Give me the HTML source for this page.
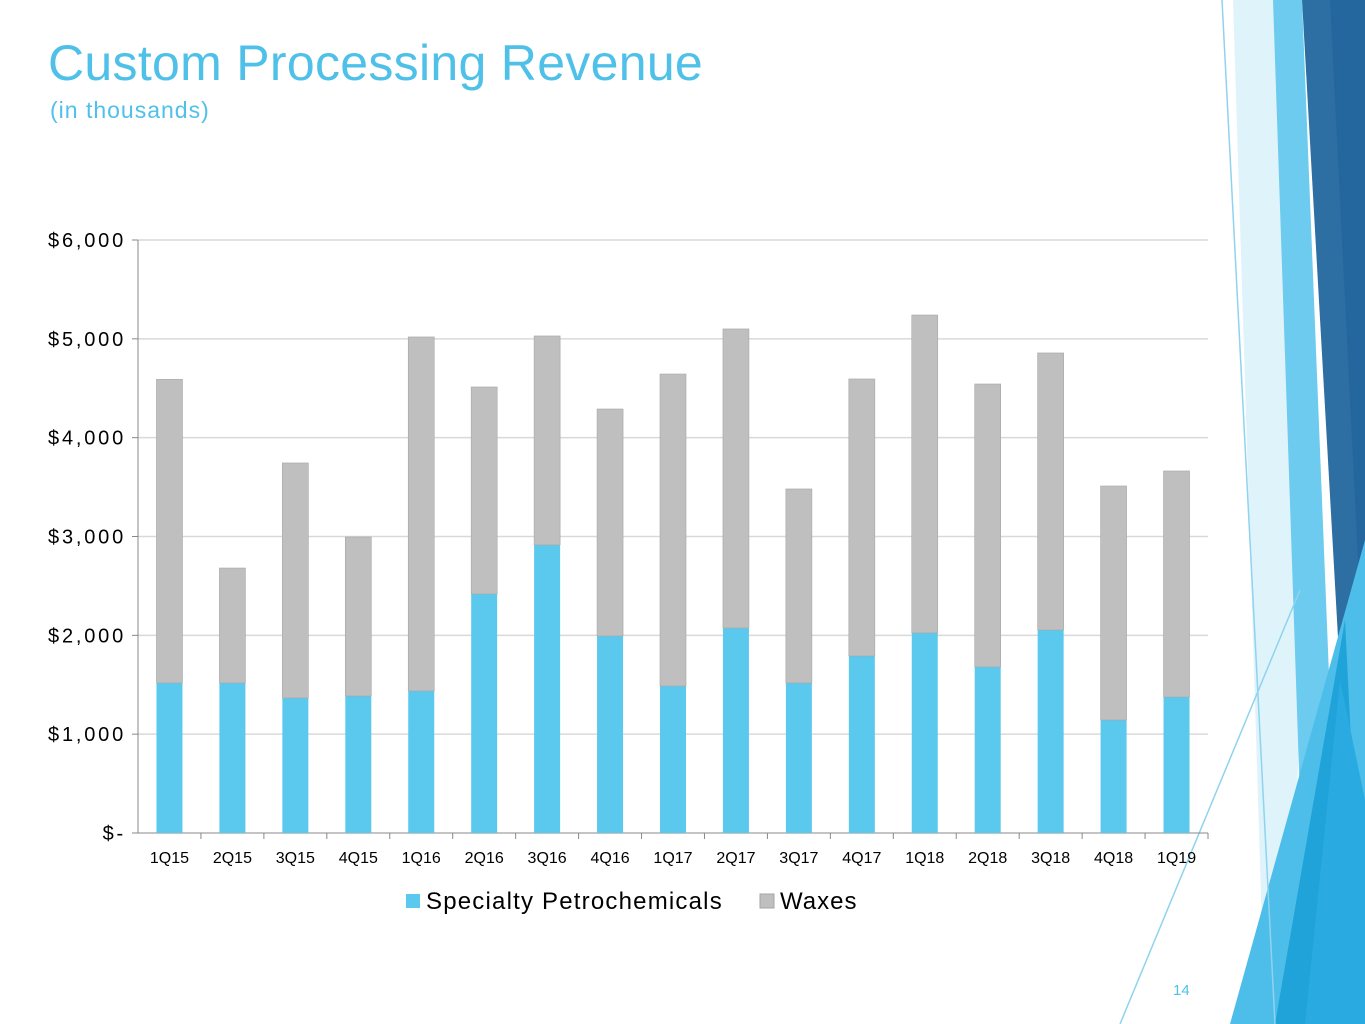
<!DOCTYPE html>
<html><head><meta charset="utf-8"><style>
body{margin:0;width:1365px;height:1024px;background:#fff;overflow:hidden;font-family:"Liberation Sans",sans-serif;position:relative}
</style></head><body>
<svg width="1365" height="1024" style="position:absolute;left:0;top:0">
<polygon points="1233,0 1302,0 1300,700 1290,1024 1265,1024" fill="#dff3fb"/>
<polygon points="1273,0 1302,0 1330,700 1300,800" fill="#6ccbef"/>
<polygon points="1302,0 1365,0 1365,560 1340,673" fill="#2d6ea3"/>
<polygon points="1330,0 1365,0 1365,700" fill="#24679e"/>
<polygon points="1230,1024 1365,540 1365,1024" fill="#4dbde9"/>
<polygon points="1275,1024 1345,620 1365,1024" fill="#1fa3d9"/>
<polygon points="1305,1024 1340,680 1365,800 1365,1024" fill="#29abe2"/>
<line x1="1222" y1="0" x2="1275" y2="1024" stroke="#8fd3ef" stroke-width="1.5"/>
<line x1="1120" y1="1024" x2="1300" y2="590" stroke="#8fd3ef" stroke-width="1.5"/>
</svg>
<div style="position:absolute;left:48px;top:34px;font-size:50px;color:#4fc1e9;letter-spacing:0.3px">Custom Processing Revenue</div>
<div style="position:absolute;left:50px;top:97px;font-size:23px;color:#4fc1e9;letter-spacing:1px">(in thousands)</div>
<div style="position:absolute;left:1173px;top:982px;font-size:15px;color:#4fc1e9">14</div>
<svg id="chart" width="1365" height="1024" style="position:absolute;left:0;top:0"></svg>
<script>
const categories=["1Q15","2Q15","3Q15","4Q15","1Q16","2Q16","3Q16","4Q16","1Q17","2Q17","3Q17","4Q17","1Q18","2Q18","3Q18","4Q18","1Q19"];
const specialty=[1518,1518,1366,1386,1437,2418,2914,1993,1487,2074,1518,1791,2024,1680,2054,1143,1376];
const waxes=[3072,1163,2378,1609,3582,2095,2115,2297,3157,3026,1963,2803,3217,2863,2803,2368,2287];
const yTicks=[0,1000,2000,3000,4000,5000,6000];
const yLabels=["$-","$1,000","$2,000","$3,000","$4,000","$5,000","$6,000"];
const svg=document.getElementById('chart');const NS="http://www.w3.org/2000/svg";
const x0=138,x1=1208,y0=833,yTop=240,yMax=6000;
const y=v=>y0-(v/yMax)*(y0-yTop);
const band=(x1-x0)/categories.length;
const xc=i=>x0+band*(i+0.5);
function mk(t,a){const e=document.createElementNS(NS,t);for(const k in a)e.setAttribute(k,a[k]);svg.appendChild(e);return e;}
yTicks.forEach((v,i)=>{
 if(v>0){const g=mk('line',{x1:x0,x2:x1,y1:y(v),y2:y(v),stroke:'#d9d9d9','stroke-width':1.5});
 
 }
 const t=mk('text',{x:x0-12,y:y(v)+7,'text-anchor':'end','font-size':20,'letter-spacing':2.8,fill:'#000','font-family':'Liberation Sans, sans-serif'});t.textContent=yLabels[i];
 
 
 const tk=mk('line',{x1:x0-6,x2:x0,y1:y(v),y2:y(v),stroke:'#888'});
 
 
});
const ax=mk('line',{x1:x0,x2:x0,y1:yTop,y2:y0,stroke:'#888'});


const xa=mk('line',{x1:x0,x2:x1,y1:y0,y2:y0,stroke:'#888'});


const bw=26;
categories.forEach((c,i)=>{
 const tk=mk('line',{x1:x0+band*(i+1),x2:x0+band*(i+1),y1:y0,y2:y0+6,stroke:'#888'});
 
 
 const s=mk('rect',{x:xc(i)-bw/2,y:y(specialty[i]),width:bw,height:y0-y(specialty[i]),fill:'#5bc8ee'});
 
 
 const w=mk('rect',{x:xc(i)-bw/2,y:y(specialty[i]+waxes[i]),width:bw,height:y(specialty[i])-y(specialty[i]+waxes[i]),fill:'#bfbfbf',stroke:'#a6a6a6','stroke-width':0.6});
 
 
 const t=mk('text',{x:xc(i),y:y0+30,'text-anchor':'middle','font-size':16,fill:'#000','font-family':'Liberation Sans, sans-serif'});t.textContent=c;
 
 
});
const l1=mk('rect',{x:406,y:894,width:14,height:14,fill:'#5bc8ee'});


const lt1=mk('text',{x:426,y:909,'font-size':24,'letter-spacing':1.2,fill:'#000','font-family':'Liberation Sans, sans-serif'});lt1.textContent='Specialty Petrochemicals';


const l2=mk('rect',{x:760,y:894,width:14,height:14,fill:'#bfbfbf',stroke:'#a6a6a6'});


const lt2=mk('text',{x:780,y:909,'font-size':24,'letter-spacing':1,fill:'#000','font-family':'Liberation Sans, sans-serif'});lt2.textContent='Waxes';


</script>
</body></html>
